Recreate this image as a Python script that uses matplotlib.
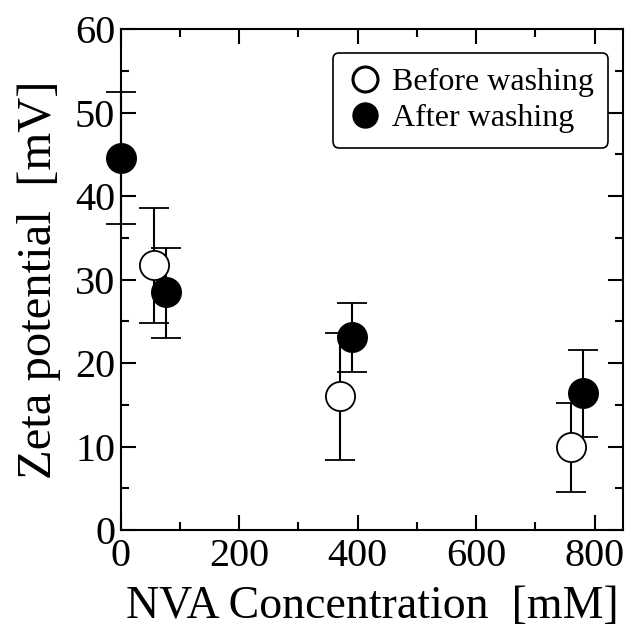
import matplotlib
matplotlib.use("Agg")
import matplotlib.pyplot as plt
from matplotlib.lines import Line2D
from matplotlib.ticker import MultipleLocator
import numpy as np

# before washing (open circles)
before_x = np.array([57, 370, 760])
before_y = np.array([31.7, 16.1, 10.0])
before_lo = np.array([24.8, 8.4, 4.55])
before_hi = np.array([38.6, 23.6, 15.2])

# after washing (filled circles)
after_x = np.array([0, 77, 390, 780])
after_y = np.array([44.6, 28.5, 23.1, 16.4])
after_lo = np.array([36.6, 23.0, 18.9, 11.2])
after_hi = np.array([52.4, 33.8, 27.2, 21.6])

plt.rcParams['font.family'] = ['Liberation Serif', 'DejaVu Serif']

fig = plt.figure(figsize=(6.32, 6.31), dpi=100)
ax = fig.add_axes([0.191, 0.160, 0.795, 0.794])

ebkw = dict(fmt='o', ecolor='black', elinewidth=1.5, capsize=11, capthick=1.5,
            markersize=21, markeredgecolor='black', markeredgewidth=1.3)

eb1 = ax.errorbar(before_x, before_y,
                  yerr=[before_y - before_lo, before_hi - before_y],
                  markerfacecolor='white', **ebkw)
eb2 = ax.errorbar(after_x, after_y,
                  yerr=[after_y - after_lo, after_hi - after_y],
                  markerfacecolor='black', **ebkw)
for eb in (eb1, eb2):
    eb[0].set_clip_on(False)
    for c in eb[1]:
        c.set_clip_on(False)
    for b in eb[2]:
        b.set_clip_on(False)

ax.set_xlim(0, 848)
ax.set_ylim(0, 60)
ax.xaxis.set_major_locator(MultipleLocator(200))
ax.xaxis.set_minor_locator(MultipleLocator(100))
ax.yaxis.set_major_locator(MultipleLocator(10))
ax.yaxis.set_minor_locator(MultipleLocator(5))

ax.tick_params(which='both', direction='in', top=True, right=True, width=1.5)
ax.tick_params(which='major', length=11, labelsize=29)
ax.tick_params(axis='x', which='major', pad=6)
ax.tick_params(axis='y', which='major', pad=4)
ax.tick_params(which='minor', length=6)
for sp in ax.spines.values():
    sp.set_linewidth(1.5)

ax.set_xlabel('NVA Concentration  [mM]', fontsize=33, labelpad=7)
ax.set_ylabel('Zeta potential  [mV]', fontsize=35, labelpad=10)

handles = [
    Line2D([], [], marker='o', linestyle='none', markersize=18,
           markerfacecolor='white', markeredgecolor='black', markeredgewidth=2.2),
    Line2D([], [], marker='o', linestyle='none', markersize=18,
           markerfacecolor='black', markeredgecolor='black'),
]
leg = ax.legend(handles, ['Before washing', 'After washing'], loc='upper right',
                bbox_to_anchor=(0.970, 0.952), borderaxespad=0,
                fontsize=23, frameon=True, fancybox=True, handletextpad=0.3,
                handlelength=1.1, borderpad=0.45, labelspacing=0.22,
                framealpha=1)
leg.get_frame().set_edgecolor('black')
leg.get_frame().set_linewidth(1.2)

fig.savefig('out.png', dpi=100)
